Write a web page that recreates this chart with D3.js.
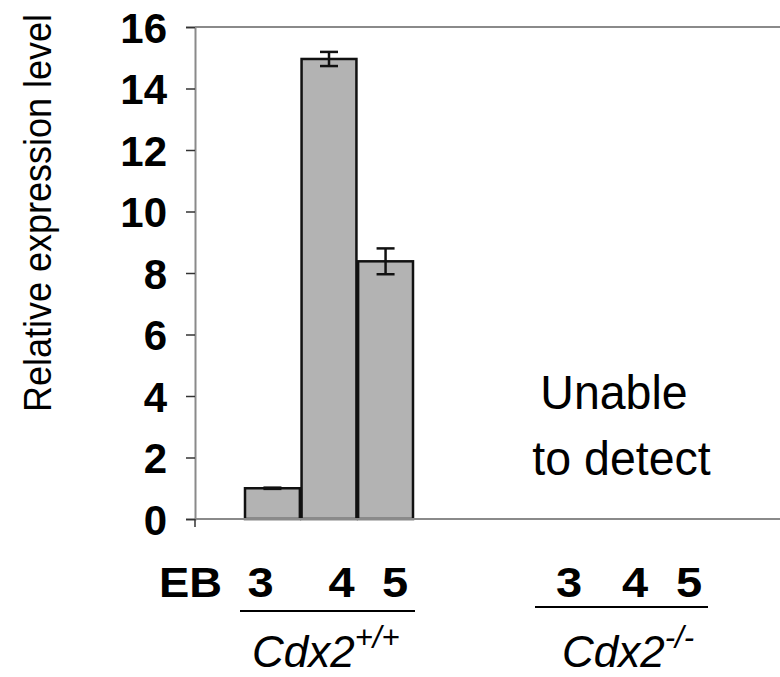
<!DOCTYPE html>
<html>
<head>
<meta charset="utf-8">
<script src="https://cdn.jsdelivr.net/npm/d3@7/dist/d3.min.js"></script>
<style>
  html, body { margin: 0; padding: 0; background: #fff; }
  svg { display: block; font-family: "Liberation Sans", Arial, Helvetica, sans-serif; }
</style>
</head>
<body>
<svg id="chart" width="780" height="677"></svg>
<script>
// Embryoid-body stages and Cdx2+/+ expression (mean ± error)
const stages = ["3", "4", "5"];
const wildTypeValues = [1.0, 14.96, 8.38];
const wildTypeErrors = [0.02, 0.23, 0.42];
const yTickValues = [0, 2, 4, 6, 8, 10, 12, 14, 16];
const yTitle = "Relative expression level";
const noSignalLines = ["Unable", "to detect"];
const stagePrefix = "EB";
const genotypes = [
  { base: "Cdx2", sup: "+/+" },
  { base: "Cdx2", sup: "-/-" }
];

(function drawChart() {
  const svg = d3.select("#chart");

  // plot frame
  const plotLeft = 195, plotRight = 782, plotTop = 27, plotBottom = 519;

  const y = d3.scaleLinear().domain([0, 16]).range([plotBottom, plotTop]);
  const x = d3.scaleBand().domain(stages).range([245, 413]).paddingInner(0.03);

  const axisGray = "#8a8a8a";

  // top border
  svg.append("line").attr("x1", plotLeft).attr("x2", plotRight)
    .attr("y1", plotTop).attr("y2", plotTop)
    .attr("stroke", axisGray).attr("stroke-width", 2);

  // y axis
  const yAxis = d3.axisLeft(y).tickValues(yTickValues).tickSize(9).tickPadding(19)
    .tickFormat(d3.format("d"));
  const gy = svg.append("g").attr("transform", `translate(${plotLeft},0)`).call(yAxis);
  gy.select(".domain").attr("stroke", axisGray).attr("stroke-width", 2);
  gy.selectAll(".tick line").attr("stroke", "#333").attr("stroke-width", 1.5);
  gy.selectAll(".tick text")
    .attr("font-size", 42).attr("font-weight", "bold").attr("fill", "#000")
    .attr("font-family", "Liberation Sans, Arial, sans-serif")
    .attr("dy", "0.36em");

  // bars
  svg.append("g").selectAll("rect")
    .data(stages)
    .join("rect")
    .attr("x", d => x(d))
    .attr("width", x.bandwidth())
    .attr("y", (d, i) => y(wildTypeValues[i]))
    .attr("height", (d, i) => y(0) - y(wildTypeValues[i]))
    .attr("fill", "#b3b3b3")
    .attr("stroke", "#111")
    .attr("stroke-width", 2.5);

  // x baseline drawn over the bars' bottom edges
  svg.append("line").attr("x1", plotLeft).attr("x2", plotRight)
    .attr("y1", y(0)).attr("y2", y(0))
    .attr("stroke", axisGray).attr("stroke-width", 2);
  svg.append("line").attr("x1", plotLeft).attr("x2", plotLeft)
    .attr("y1", y(0)).attr("y2", y(0) + 8)
    .attr("stroke", "#333").attr("stroke-width", 1.5);

  // error bars
  const capHalf = 9;
  const err = svg.append("g").attr("stroke", "#111").attr("stroke-width", 2.5);
  stages.forEach((s, i) => {
    const cx = x(s) + x.bandwidth() / 2;
    const hi = y(wildTypeValues[i] + wildTypeErrors[i]);
    const lo = y(wildTypeValues[i] - wildTypeErrors[i]);
    err.append("line").attr("x1", cx).attr("x2", cx).attr("y1", hi).attr("y2", lo);
    err.append("line").attr("x1", cx - capHalf).attr("x2", cx + capHalf).attr("y1", hi).attr("y2", hi);
    err.append("line").attr("x1", cx - capHalf).attr("x2", cx + capHalf).attr("y1", lo).attr("y2", lo);
  });

  // y axis title, glyphs slightly elongated across the baseline
  svg.append("text")
    .attr("transform", "translate(51,213) rotate(-90) scale(1,1.1)")
    .attr("text-anchor", "middle")
    .attr("font-size", 36)
    .attr("fill", "#000")
    .text(yTitle);

  // note for the knockout group
  const noteX = [614, 621.5];
  svg.append("g").selectAll("text")
    .data(noSignalLines)
    .join("text")
    .attr("transform", (d, i) => `translate(${noteX[i]},${409 + i * 66}) scale(1,1.05)`)
    .attr("text-anchor", "middle")
    .attr("font-size", 46.5)
    .attr("fill", "#000")
    .text(d => d);

  // stage labels under each genotype group
  const stageLabelY = 597;
  const labelFont = 42;
  svg.append("text")
    .attr("transform", `translate(190.5,${stageLabelY}) scale(1.08,1)`)
    .attr("text-anchor", "middle")
    .attr("font-size", labelFont).attr("font-weight", "bold")
    .text(stagePrefix);

  const stageLabelX = [[260.5, 341.5, 395], [569, 635, 689]];
  stageLabelX.forEach(xs => {
    svg.append("g").selectAll("text")
      .data(stages)
      .join("text")
      .attr("transform", (d, i) => `translate(${xs[i]},${stageLabelY}) scale(1.12,1)`)
      .attr("text-anchor", "middle")
      .attr("font-size", labelFont).attr("font-weight", "bold")
      .text(d => d);
  });

  // group underlines
  const groupSpans = [[240, 415, 611], [535, 708, 607]];
  groupSpans.forEach(([x1, x2, yy]) => {
    svg.append("line").attr("x1", x1).attr("x2", x2).attr("y1", yy).attr("y2", yy)
      .attr("stroke", "#000").attr("stroke-width", 2);
  });

  // genotype labels
  const genotypeX = [252, 562];
  genotypes.forEach((g, i) => {
    const t = svg.append("text")
      .attr("x", genotypeX[i]).attr("y", 667)
      .attr("font-size", 44).attr("font-style", "italic")
      .attr("fill", "#000");
    t.append("tspan").text(g.base);
    t.append("tspan").attr("font-size", 31).attr("dy", -19).text(g.sup);
  });
})();
</script>
</body>
</html>
